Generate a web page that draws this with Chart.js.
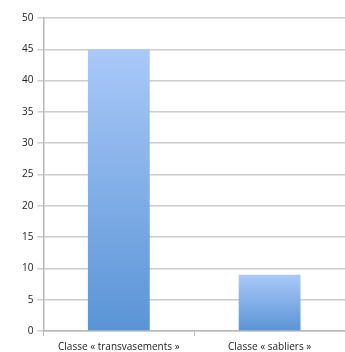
<!DOCTYPE html>
<html>
<head>
<meta charset="utf-8">
<script src="https://cdn.jsdelivr.net/npm/chart.js@4/dist/chart.umd.min.js"></script>
<style>
  html,body{margin:0;padding:0;background:#fff}
  #wrap{width:345px;height:352px;position:relative}
</style>
</head>
<body>
<div id="wrap"><canvas id="c"></canvas></div>
<script>
// ── Data ──
var categories=['Classe « transvasements »','Classe « sabliers »'];
var values=[45,9];
var yTicks=[0,5,10,15,20,25,30,35,40,45,50];

// vertical gradient per bar: light at top, darker at base
function barFill(c){
  var ch=c.chart;
  if(!ch.chartArea)return '#7fade9';
  var y=ch.scales.y;
  var top=y.getPixelForValue(c.raw), base=y.getPixelForValue(0);
  var g=ch.ctx.createLinearGradient(0,top,0,base);
  g.addColorStop(0,'#aac9f9');
  g.addColorStop(1,'#5a94d6');
  return g;
}

var tickFont={family:'"Open Sans", "Liberation Sans", sans-serif',size:10};

new Chart(document.getElementById('c'),{
  type:'bar',
  data:{
    labels:categories,
    datasets:[{data:values,backgroundColor:barFill,borderWidth:0,categoryPercentage:0.82,barPercentage:0.5}]
  },
  options:{
    responsive:true,maintainAspectRatio:false,animation:false,
    layout:{padding:{top:18,right:0,left:18,bottom:0}},
    plugins:{legend:{display:false},tooltip:{enabled:false}},
    scales:{
      y:{
        min:0,max:50,
        afterBuildTicks:function(s){s.ticks=yTicks.map(function(v){return {value:v}})},
        grid:{color:'#cccccc',lineWidth:1.5,tickLength:6},
        border:{color:'#b8b8b8',width:1.5},
        ticks:{color:'#222',font:tickFont,padding:4}
      },
      x:{
        afterFit:function(s){s.height=21},
        grid:{offset:true,drawOnChartArea:false,color:'#b8b8b8',tickLength:5},
        border:{color:'#b8b8b8',width:1.5},
        ticks:{color:'#222',font:{family:tickFont.family,size:10,lineHeight:1},padding:6,maxRotation:0}
      }
    }
  }
});
</script>
</body>
</html>
